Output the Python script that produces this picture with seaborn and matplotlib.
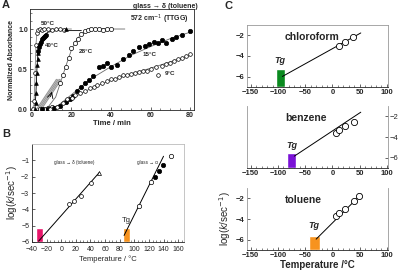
import numpy as np
import matplotlib
matplotlib.use("Agg")
import matplotlib.pyplot as plt
import seaborn as sns
from matplotlib.ticker import MultipleLocator

# --- panel A: normalized absorbance vs time ---
t50 = [0.5, 1.0, 1.5, 2.0, 2.5, 3.0, 4, 5, 6, 8, 10, 12, 14, 16]
y50 = [0.0, 0.1, 0.45, 0.8, 0.95, 0.99, 1.0, 0.99, 1.0, 1.0, 0.99, 1.0, 1.0, 0.99]
fit50_t = [0, 1, 1.5, 2, 2.5, 3, 4, 6, 20]
fit50_y = [0, 0.05, 0.4, 0.8, 0.95, 0.99, 1.0, 1.0, 1.0]

t40_tri = [1.5, 1.8, 2.0, 2.2, 2.4, 2.6, 2.8, 3.0, 17]
y40_tri = [0.0, 0.08, 0.2, 0.32, 0.45, 0.55, 0.62, 0.7, 1.0]
t40_circ = [3.2, 3.6, 4.0, 4.5, 5.0, 5.5, 6.0, 6.5, 7.0]
y40_circ = [0.72, 0.77, 0.81, 0.84, 0.87, 0.89, 0.9, 0.91, 0.93]
fit40_t = [1.5, 2, 2.5, 3, 4, 5, 6, 8, 12, 25]
fit40_y = [0, 0.2, 0.5, 0.7, 0.82, 0.88, 0.92, 0.96, 0.98, 0.98]

t28 = [4, 6, 8, 10, 14, 15.5, 17, 18.5, 20, 21.7, 23.4, 25, 26.8, 28.5, 30, 32, 34, 36, 38, 40]
y28 = [0, 0, 0.01, 0.03, 0.32, 0.42, 0.52, 0.64, 0.76, 0.83, 0.88, 0.94, 0.98, 0.99, 1.0, 1.0, 1.0, 0.99, 1.0, 1.0]
fit28_t = [4, 8, 12, 14, 16, 18, 20, 22, 24, 27, 30, 35, 47]
fit28_y = [0, 0.02, 0.15, 0.3, 0.45, 0.6, 0.74, 0.84, 0.91, 0.97, 0.99, 1.0, 1.0]

band_t0 = [2.4, 3.2, 4.0, 4.8]
band_t1 = [12.4, 13.2, 14.0, 14.8]
band_y = [0.0, 0.37]

t15 = [5, 8, 11, 14, 17, 19, 21, 23, 25, 27, 29, 31, 34, 36, 38, 40, 43, 46, 49, 51, 54, 57, 59, 62, 64, 66, 68, 71, 73, 76, 80]
y15 = [0.0, 0.0, 0.01, 0.04, 0.09, 0.13, 0.16, 0.22, 0.27, 0.32, 0.36, 0.41, 0.53, 0.54, 0.57, 0.53, 0.55, 0.63, 0.68, 0.72, 0.77, 0.79, 0.81, 0.84, 0.83, 0.86, 0.82, 0.88, 0.90, 0.93, 0.98]
fit15_t = [8, 12, 20, 30, 40, 50, 60, 70, 80]
fit15_y = [0, 0.02, 0.18, 0.38, 0.53, 0.67, 0.78, 0.88, 0.96]

t9 = [9, 12.6, 15.9, 17.6, 20.2, 21.9, 24.4, 27, 29.5, 31.2, 33, 35.5, 38, 40, 42, 44, 46, 48, 50, 52, 54, 56, 58, 60, 63, 64, 66, 68, 70, 72, 74, 76, 78, 80]
y9 = [0, 0.03, 0.08, 0.12, 0.14, 0.17, 0.2, 0.23, 0.26, 0.28, 0.3, 0.32, 0.35, 0.37, 0.38, 0.4, 0.42, 0.43, 0.44, 0.45, 0.46, 0.47, 0.48, 0.5, 0.52, 0.42, 0.54, 0.56, 0.58, 0.6, 0.62, 0.64, 0.66, 0.69]
fit9_t = [8, 15, 20, 30, 40, 50, 60, 70, 80]
fit9_y = [0, 0.06, 0.13, 0.26, 0.36, 0.44, 0.51, 0.59, 0.67]

# --- panel B: log k vs temperature ---
b_left_T = [10, 17.5, 26.7, 40.3]
b_left_y = [-3.66, -3.46, -3.2, -2.37]
b_tri_T = [51.6]
b_tri_y = [-1.79]
b_left_fit_T = [-31, 52]
b_left_fit_y = [-5.95, -1.75]
b_right_open_T = [106, 123.3, 150]
b_right_open_y = [-3.8, -2.35, -0.75]
b_right_fill_T = [128.7, 133.2, 138.6]
b_right_fill_y = [-2.0, -1.63, -1.27]
b_right_fit_T = [86, 140]
b_right_fit_y = [-5.6, -0.75]
b_bars_left = [-35, 84]
b_bars_width = [10, 10]
b_bars_top = [-5.15, -5.15]
b_bars_color = ["#e8156a", "#f7931e"]

# --- panel C: three solvents ---
solvents = ["chloroform", "benzene", "toluene"]
c_T = [[11.8, 22.8, 38.0],
       [6.3, 11.8, 22.8, 39.3],
       [6.3, 12.4, 22.8, 39.3, 48.5]]
c_y = [[-3.07, -2.6, -2.16],
       [-3.64, -3.34, -2.96, -2.56],
       [-3.7, -3.46, -3.07, -2.26, -1.78]]
c_fit_T = [[-92, 52], [-70, 52], [-30, 53]]
c_fit_y = [[-5.98, -1.77], [-5.85, -1.6], [-5.95, -1.6]]
c_bar_left = [-104, -84, -43]
c_bar_width = [16, 17, 20]
c_bar_top = [-5.25, -5.58, -5.65]
c_bar_color = ["#0a8a1f", "#7a12d6", "#f7931e"]
c_tg_xy = [(-97, -4.65), (-75, -5.05), (-35, -4.9)]

sns.set_style("ticks")
plt.rcParams["font.family"] = ["Liberation Sans", "DejaVu Sans"]
plt.rcParams["xtick.direction"] = "in"
plt.rcParams["ytick.direction"] = "in"
plt.rcParams["axes.linewidth"] = 0.6

fig = plt.figure(figsize=(4, 2.73), dpi=100)
H = 273.0
W = 400.0


def box(l, t, r, b):
    return [l / W, 1 - b / H, (r - l) / W, (b - t) / H]


def line(ax, x, y, **kw):
    sns.lineplot(x=x, y=y, ax=ax, color=kw.pop("color", "black"), lw=kw.pop("lw", 0.6),
                 sort=False, estimator=None, **kw)


def pts(ax, x, y, marker="o", face="white", s=6, lw=0.5, edge="black"):
    sns.scatterplot(x=x, y=y, ax=ax, marker=marker, color=face, edgecolor=edge,
                    s=s, linewidth=lw, zorder=3)


# ===== Panel A =====
axA = fig.add_axes(box(30, 9, 194, 110))
line(axA, fit50_t, fit50_y, color="gray")
line(axA, fit40_t, fit40_y)
line(axA, fit28_t, fit28_y, color="dimgray")
line(axA, fit15_t, fit15_y, color="dimgray")
line(axA, fit9_t, fit9_y, color="dimgray")
for a, b in zip(band_t0, band_t1):
    line(axA, [a, b], band_y, color="#999999", lw=0.9)
pts(axA, t50, y50, s=7)
pts(axA, t40_tri, y40_tri, marker="^", face="black", s=7)
pts(axA, t40_circ, y40_circ, face="black", s=9)
pts(axA, t28, y28, s=9)
pts(axA, t15, y15, face="black", s=10)
pts(axA, t9, y9, s=7)
axA.annotate("", xy=(10.5, 0.25), xytext=(9.0, 0.12),
             arrowprops=dict(arrowstyle="->", lw=0.6, color="black"))
lab = dict(fontsize=4.5, fontweight="bold")
axA.text(4.5, 1.05, "50°C", **lab)
axA.text(6.5, 0.78, "40°C", **lab)
axA.text(23.5, 0.7, "28°C", **lab)
axA.text(56, 0.66, "15°C", **lab)
axA.text(67, 0.42, "9°C", **lab)
axA.text(0.97, 0.88, "572 cm$^{-1}$ (TTGG)", transform=axA.transAxes, ha="right",
         fontsize=5, fontweight="bold")
axA.set_xlim(-1, 82)
axA.set_ylim(-0.012, 1.25)
axA.set_xticks([0, 20, 40, 60, 80])
axA.set_yticks([0.0, 0.5, 1.0])
axA.set_yticklabels(["0.0", "0.5", "1.0"])
axA.xaxis.set_minor_locator(MultipleLocator(5))
axA.yaxis.set_minor_locator(MultipleLocator(0.1))
axA.tick_params(labelsize=5, length=2, width=0.5, pad=1.5)
axA.tick_params(which="minor", length=1.2, width=0.4)
for t in axA.get_xticklabels() + axA.get_yticklabels():
    t.set_fontweight("bold")
axA.set_xlabel("Time / min", fontsize=5.5, fontweight="bold", labelpad=1)
axA.set_ylabel("Normalized Absorbance", fontsize=5, fontweight="bold", labelpad=2)
fig.text(198 / W, 1 - 6 / H, "glass → δ (toluene)", ha="right", va="center",
         fontsize=5, fontweight="bold")

# ===== Panel B =====
axB = fig.add_axes(box(32, 144, 184, 242))
axB.bar(b_bars_left, [t - (-6) for t in b_bars_top], width=b_bars_width, bottom=-6,
        align="edge", color=b_bars_color, zorder=1)
line(axB, b_left_fit_T, b_left_fit_y, lw=0.7)
line(axB, b_right_fit_T, b_right_fit_y, lw=0.7)
pts(axB, b_left_T, b_left_y, s=8)
pts(axB, b_tri_T, b_tri_y, marker="^", s=8)
pts(axB, b_right_open_T, b_right_open_y, s=10)
pts(axB, b_right_fill_T, b_right_fill_y, face="black", s=10)
axB.text(-10, -1.15, "glass → δ (toluene)", fontsize=3.3, va="center")
axB.text(104, -1.15, "glass → α", fontsize=3.3, va="center")
axB.text(83, -4.75, "Tg", fontsize=5.5)
axB.set_xlim(-40, 168)
axB.set_ylim(-6, 0)
axB.set_xticks(range(-40, 161, 20))
axB.set_yticks([-6, -5, -4, -3, -2, -1])
axB.xaxis.set_minor_locator(MultipleLocator(5))
axB.tick_params(labelsize=5, length=2, width=0.5)
axB.tick_params(axis="x", pad=3)
axB.tick_params(axis="y", pad=2)
axB.tick_params(which="minor", length=1.2, width=0.4)
axB.set_xlabel("Temperature / °C", fontsize=5.5, labelpad=1.5)
axB.set_ylabel("log($k$/sec$^{-1}$)", fontsize=7, labelpad=1)
for s_ in ["top", "right"]:
    axB.spines[s_].set_color("#bbbbbb")

# ===== Panel C =====
c_boxes = [(247, 25, 388, 87), (247, 106, 388, 168), (247, 188, 388, 250)]
for i, name in enumerate(solvents):
    ax = fig.add_axes(box(*c_boxes[i]))
    ax.bar([c_bar_left[i]], [c_bar_top[i] + 7], width=[c_bar_width[i]], bottom=-7,
           align="edge", color=c_bar_color[i], zorder=1)
    line(ax, c_fit_T[i], c_fit_y[i], lw=0.7)
    pts(ax, c_T[i], c_y[i], s=20, lw=0.6)
    ax.text(c_tg_xy[i][0], c_tg_xy[i][1], "Tg", fontsize=6.5, fontweight="bold",
            fontstyle="italic", ha="center")
    ax.text(0.27, 0.8, name, transform=ax.transAxes, fontsize=7.5, fontweight="bold",
            va="center")
    ax.set_xlim(-157, 102)
    ax.set_ylim(-7, -1)
    ax.set_xticks([-150, -100, -50, 0, 50, 100])
    ax.set_yticks([-6, -4, -2])
    ax.xaxis.set_minor_locator(MultipleLocator(10))
    ax.tick_params(labelsize=5.5, length=2, width=0.5, pad=1.5)
    ax.tick_params(which="minor", length=1.2, width=0.4)
    for t in ax.get_xticklabels() + ax.get_yticklabels():
        t.set_fontweight("bold")
    for s_ in ["top", "right", "left"]:
        ax.spines[s_].set_color("#999999")
    if i == 1:
        ax.yaxis.tick_right()
        ax.spines["top"].set_visible(False)
    if i == 2:
        ax.spines["top"].set_visible(False)
        ax.set_xlabel("Temperature /°C", fontsize=7, fontweight="bold", labelpad=0.5)
        ax.set_ylabel("log($k$/sec$^{-1}$)", fontsize=7, labelpad=2)

fig.text(2 / W, 1 - 5 / H, "A", fontsize=8, fontweight="bold", va="center")
fig.text(2 / W, 1 - 134 / H, "B", fontsize=8, fontweight="bold", va="center")
fig.text(224 / W, 1 - 6 / H, "C", fontsize=8, fontweight="bold", va="center")

fig.savefig("out.png", dpi=100)
